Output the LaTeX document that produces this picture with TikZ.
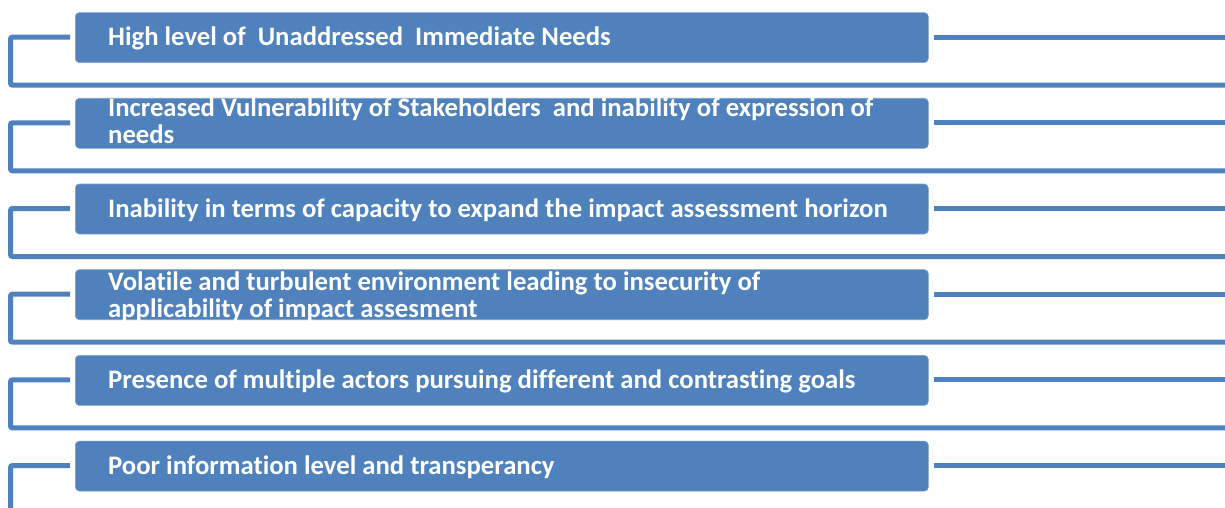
\documentclass[tikz,border=0pt]{standalone}
\usepackage{fontspec}
\setmainfont[Ligatures={NoCommon}]{Carlito}
\definecolor{ofblue}{HTML}{4F81BD}
\definecolor{ofedge}{HTML}{7EA1CC}
\begin{document}
\begin{tikzpicture}[x=1pt,y=-1pt,
  boxstyle/.style={draw=ofedge,line width=0.6pt,fill=ofblue,rounded corners=4pt,minimum width=853pt,minimum height=50pt,inner sep=0pt,anchor=north west},
  labelstyle/.style={text=white,font=\fontsize{26.7pt}{27pt}\selectfont\bfseries,align=left,inner sep=0pt,anchor=base west},
  framestyle/.style={draw=ofblue,line width=5pt,rounded corners=2pt}]
\useasboundingbox (0,0) rectangle (1225,508);
\coordinate (leftx) at (10.5,0);
\coordinate (rightx) at (1226,0);
\foreach \i/\t in {1/12.3,2/98,3/183.7,4/269.4,5/355.1,6/440.8}{
  \node[boxstyle] (b\i) at (75,\t) {};
}
% labels
\node[labelstyle] (t1) at ([xshift=33pt,yshift=-8pt]b1.west) {High level of\ \ Unaddressed\ \ Immediate Needs};
\node[labelstyle] (t2) at ([xshift=33pt,yshift=-20.5pt]b2.west) {Increased Vulnerability of Stakeholders\ \ and inability of expression of\\needs};
\node[labelstyle] (t3) at ([xshift=33pt,yshift=-8pt]b3.west) {Inability in terms of capacity to expand the impact assessment horizon};
\node[labelstyle] (t4) at ([xshift=33pt,yshift=-22.5pt]b4.west) {Volatile and turbulent environment leading to insecurity of\\applicability of impact assesment};
\node[labelstyle] (t5) at ([xshift=33pt,yshift=-8pt]b5.west) {Presence of multiple actors pursuing different and contrasting goals};
\node[labelstyle] (t6) at ([xshift=33pt,yshift=-8pt]b6.west) {Poor information level and transperancy};
% frames
\foreach \i in {1,...,5}{
  \coordinate (ls\i) at ([xshift=-5pt,yshift=0.5pt]b\i.west);
  \coordinate (lc\i) at ([yshift=-48pt]ls\i -| leftx);
  \coordinate (le\i) at (lc\i -| rightx);
  \coordinate (rs\i) at ([xshift=5pt,yshift=0.5pt]b\i.east);
  \coordinate (re\i) at (rs\i -| rightx);
  \draw[framestyle] (ls\i) -| (lc\i) -- (le\i);
  \draw[framestyle] (rs\i) -- (re\i);
}
\coordinate (ls6) at ([xshift=-5pt,yshift=0.5pt]b6.west);
\coordinate (lc6) at ([yshift=-60pt]ls6 -| leftx);
\coordinate (rs6) at ([xshift=5pt,yshift=0.5pt]b6.east);
\coordinate (re6) at (rs6 -| rightx);
\draw[framestyle] (ls6) -| (lc6);
\draw[framestyle] (rs6) -- (re6);
\end{tikzpicture}
\end{document}
